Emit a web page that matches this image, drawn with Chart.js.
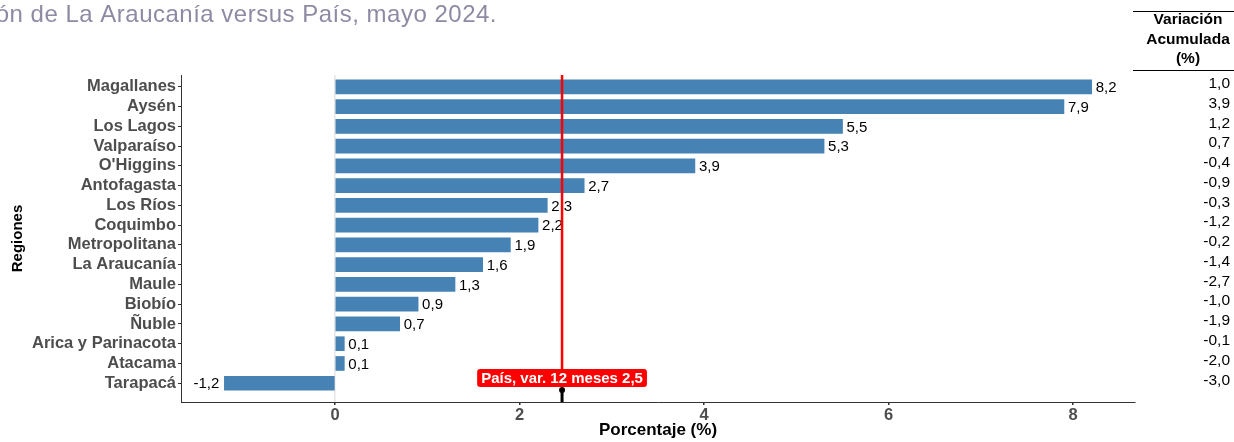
<!DOCTYPE html>
<html>
<head>
<meta charset="UTF-8">
<title>Variación regional</title>
<script src="https://cdn.jsdelivr.net/npm/chart.js"></script>
<style>
  html, body { margin: 0; padding: 0; background: #fff; }
  #wrap { width: 1234px; height: 442px; }
</style>
</head>
<body>
<div id="wrap"><canvas id="grafico"></canvas></div>
<script>
// datos
const regiones = ['Magallanes', 'Aysén', 'Los Lagos', 'Valparaíso', "O'Higgins", 'Antofagasta',
  'Los Ríos', 'Coquimbo', 'Metropolitana', 'La Araucanía', 'Maule', 'Biobío', 'Ñuble',
  'Arica y Parinacota', 'Atacama', 'Tarapacá'];
const var12 = [8.2, 7.9, 5.5, 5.3, 3.9, 2.7, 2.3, 2.2, 1.9, 1.6, 1.3, 0.9, 0.7, 0.1, 0.1, -1.2];
const varAcum = [1.0, 3.9, 1.2, 0.7, -0.4, -0.9, -0.3, -1.2, -0.2, -1.4, -2.7, -1.0, -1.9, -0.1, -2.0, -3.0];
const paisVar = 2.46;
const xTicks = [0, 2, 4, 6, 8];
const titulo = 'Región de La Araucanía versus País, mayo 2024.';

const fmt = v => v.toFixed(1).replace('.', ',');
const azul = '#4682B4';
const FAM = '"Liberation Sans", Arial, sans-serif';

// etiquetas, línea país y tabla lateral
const extras = {
  id: 'extras',
  afterDatasetsDraw(chart) {
    const ctx = chart.ctx;
    const xs = chart.scales.x, ys = chart.scales.y;
    const area = chart.chartArea;
    ctx.save();

    // etiquetas de valor
    ctx.font = '15px ' + FAM;
    ctx.fillStyle = '#000';
    ctx.textBaseline = 'middle';
    chart.getDatasetMeta(0).data.forEach((bar, i) => {
      const v = var12[i];
      if (v >= 0) { ctx.textAlign = 'left'; ctx.fillText(fmt(v), bar.x + 4, bar.y + 1); }
      else { ctx.textAlign = 'right'; ctx.fillText(fmt(v), bar.x - 5, bar.y + 1); }
    });

    // línea del país
    const px = xs.getPixelForValue(paisVar);
    ctx.strokeStyle = '#ff0000';
    ctx.lineWidth = 2.5;
    ctx.beginPath(); ctx.moveTo(px, area.top); ctx.lineTo(px, area.bottom - 30); ctx.stroke();

    // piruleta negra
    ctx.strokeStyle = '#000';
    ctx.lineWidth = 3;
    ctx.beginPath(); ctx.moveTo(px, area.bottom - 12); ctx.lineTo(px, area.bottom); ctx.stroke();
    ctx.fillStyle = '#000';
    ctx.beginPath(); ctx.arc(px, area.bottom - 12, 3, 0, Math.PI * 2); ctx.fill();

    // etiqueta país
    const txt = 'País, var. 12 meses ' + fmt(paisVar);
    ctx.font = 'bold 15px ' + FAM;
    const w = ctx.measureText(txt).width + 8;
    const bx = px - w / 2, by = area.bottom - 33, bh = 18;
    ctx.fillStyle = '#ff0000';
    ctx.beginPath();
    ctx.roundRect(bx, by, w, bh, 3);
    ctx.fill();
    ctx.fillStyle = '#fff';
    ctx.textAlign = 'center';
    ctx.fillText(txt, px, by + bh / 2 + 1);

    // título (cortado a la izquierda)
    ctx.font = '24px ' + FAM;
    ctx.letterSpacing = '0.5px';
    ctx.fillStyle = '#8e8aa3';
    ctx.textAlign = 'right';
    ctx.textBaseline = 'alphabetic';
    ctx.fillText(titulo, 497, 22);
    ctx.letterSpacing = '0px';

    // tabla lateral
    ctx.strokeStyle = '#000';
    ctx.lineWidth = 1;
    ctx.beginPath(); ctx.moveTo(1133, 11.5); ctx.lineTo(1234, 11.5); ctx.stroke();
    ctx.beginPath(); ctx.moveTo(1133, 70.5); ctx.lineTo(1234, 70.5); ctx.stroke();
    ctx.fillStyle = '#000';
    ctx.font = 'bold 15.5px ' + FAM;
    ctx.textAlign = 'center';
    ctx.textBaseline = 'middle';
    ctx.fillText('Variación', 1188, 20);
    ctx.fillText('Acumulada', 1188, 40);
    ctx.fillText('(%)', 1188, 59);
    ctx.font = '15.5px ' + FAM;
    ctx.textAlign = 'right';
    varAcum.forEach((v, i) => {
      ctx.fillText(fmt(v), 1230, ys.getPixelForValue(i) - 3);
    });
    ctx.restore();
  }
};

new Chart(document.getElementById('grafico'), {
  type: 'bar',
  data: {
    datasets: [{
      data: var12.map((v, i) => ({ x: v, y: i })),
      backgroundColor: azul,
      borderWidth: 0,
      barThickness: 14
    }]
  },
  options: {
    indexAxis: 'y',
    responsive: true,
    maintainAspectRatio: false,
    animation: false,
    layout: { padding: { top: 75, right: 99, left: 0, bottom: 0 } },
    plugins: { legend: { display: false }, tooltip: { enabled: false } },
    scales: {
      x: {
        type: 'linear',
        min: -1.67,
        max: 8.67,
        afterBuildTicks: s => { s.ticks = xTicks.map(v => ({ value: v })); },
        afterFit: s => { s.height = 40; },
        border: { color: '#333', width: 1 },
        grid: {
          color: c => (c.tick && c.tick.value === 0 ? '#e6e6e6' : 'rgba(0,0,0,0)'),
          lineWidth: 1.5,
          tickColor: '#333',
          tickLength: 3
        },
        ticks: {
          color: '#4d4d4d',
          padding: 1,
          font: { family: FAM, size: 16.5, weight: 'bold' },
          callback: v => v
        },
        title: {
          display: true,
          text: 'Porcentaje (%)',
          color: '#000',
          font: { family: FAM, size: 17, weight: 'bold' },
          padding: { top: 0, bottom: 1 }
        }
      },
      y: {
        type: 'linear',
        reverse: true,
        offset: false,
        min: -0.6,
        max: 15.95,
        afterBuildTicks: s => { s.ticks = regiones.map((r, i) => ({ value: i })); },
        afterFit: s => { s.width = 181; },
        border: { color: '#333', width: 1 },
        grid: { drawOnChartArea: false, offset: false, tickColor: '#333', tickLength: 3 },
        ticks: {
          color: '#4d4d4d',
          padding: 2,
          autoSkip: false,
          font: { family: FAM, size: 16.5, weight: 'bold' },
          callback: v => regiones[v]
        },
        title: {
          display: true,
          text: 'Regiones',
          color: '#000',
          font: { family: FAM, size: 15, weight: 'bold' },
          padding: { top: 9, bottom: 0 }
        }
      }
    }
  },
  plugins: [extras]
});
</script>
</body>
</html>
